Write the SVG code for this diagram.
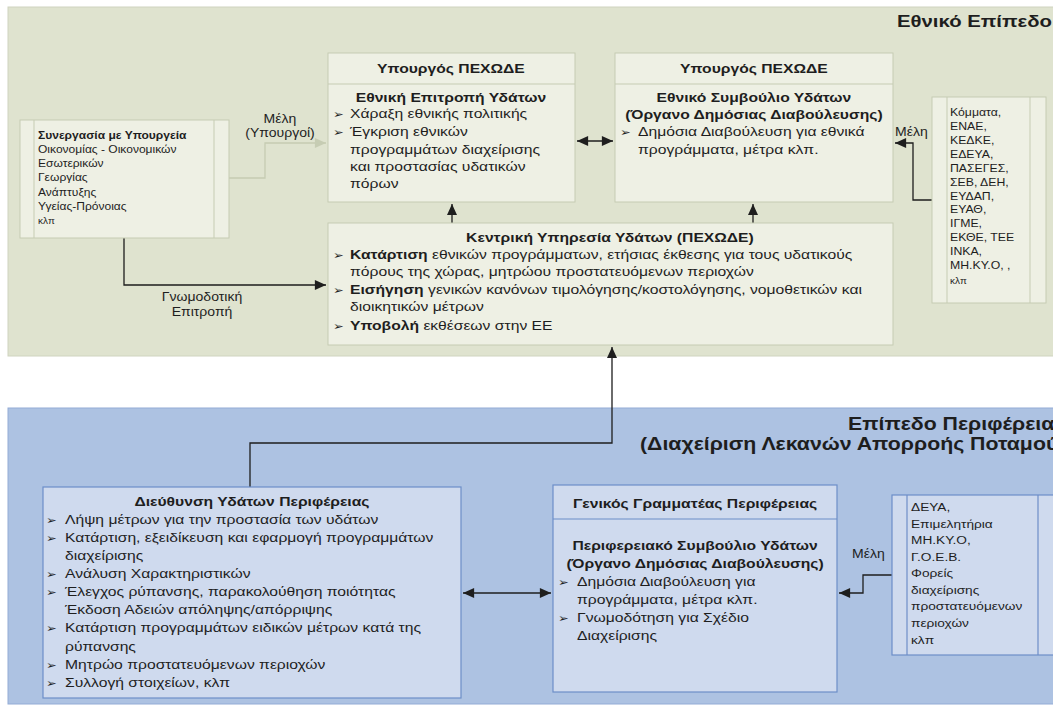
<svg xmlns="http://www.w3.org/2000/svg" width="1053" height="707" viewBox="0 0 1053 707">
<defs>
<style>
.t{font-family:"Liberation Sans",Arial,sans-serif;fill:#1e1e1e}
.b{font-weight:bold}
.m{font-size:13.4px}
.c{text-anchor:middle}
.e{text-anchor:end}
.l{font-size:12px}
.lb{font-size:10.3px}
.sm{font-size:10.5px}
.bl{font-size:11.7px}
.k{font-size:8.5px}
.pt{font-size:17.4px;font-weight:bold}
.pt2{font-size:18.2px;font-weight:bold}
.bul{font-family:"DejaVu Sans",sans-serif;font-size:11px;fill:#1e1e1e}
.gbox{fill:#eef0e4;stroke:#c6ccb3;stroke-width:1}
.bbox{fill:#cfdaee;stroke:#6d8ec8;stroke-width:1.2}
.ln{fill:none;stroke:#1e1e1e;stroke-width:1.3}
.lt{fill:none;stroke:#c6ccb3;stroke-width:1.3}
</style>
<marker id="ah" markerUnits="userSpaceOnUse" markerWidth="12" markerHeight="10" refX="10" refY="4.5" orient="auto-start-reverse" viewBox="0 0 10 9"><path d="M0,0 L10,4.5 L0,9 z" fill="#1e1e1e"/></marker>
<marker id="ahl" markerUnits="userSpaceOnUse" markerWidth="12" markerHeight="10" refX="10" refY="4.5" orient="auto" viewBox="0 0 10 9"><path d="M0,0 L10,4.5 L0,9 z" fill="#c6ccb3"/></marker>
</defs>
<rect width="1053" height="707" fill="#ffffff"/>
<g id="panel-national">
<rect x="8" y="7" width="1060" height="349" fill="#dfe3cf" stroke="#cfd4bf"/>
<text class="t pt e" transform="translate(1052,0) scale(1.17,1)" x="0" y="27">Εθνικό Επίπεδο</text>
</g>
<g id="panel-regional">
<rect x="8" y="408" width="1060" height="296" fill="#adc2e2" stroke="#93acd6"/>
<text class="t pt2" transform="translate(848,0) scale(1.17,1)" x="0" y="430">Επίπεδο Περιφέρειας</text>
<text class="t pt2" transform="translate(640,0) scale(1.17,1)" x="0" y="450">(Διαχείριση Λεκανών Απορροής Ποταμού)</text>
</g>
<g id="connectors">
<polyline class="lt" points="229,178 265,178 265,143 326,143" marker-end="url(#ahl)"/>
<text class="t l c" transform="translate(280,0) scale(1.17,1)" x="0" y="123">Μέλη</text>
<text class="t l c" transform="translate(280,0) scale(1.17,1)" x="0" y="137">(Υπουργοί)</text>
<line class="ln" x1="577" y1="141" x2="613" y2="141" marker-start="url(#ah)" marker-end="url(#ah)"/>
<polyline class="ln" points="932,200 913,200 913,143 895,143" marker-end="url(#ah)"/>
<text class="t l" transform="translate(895,0) scale(1.17,1)" x="0" y="136">Μέλη</text>
<line class="ln" x1="452" y1="223" x2="452" y2="204" marker-end="url(#ah)"/>
<line class="ln" x1="753" y1="223" x2="753" y2="204" marker-end="url(#ah)"/>
<polyline class="ln" points="124,238 124,285 326,285" marker-end="url(#ah)"/>
<text class="t l c" transform="translate(202,0) scale(1.17,1)" x="0" y="301">Γνωμοδοτική</text>
<text class="t l c" transform="translate(202,0) scale(1.17,1)" x="0" y="316">Επιτροπή</text>
<polyline class="ln" points="250,487 250,443 612,443 612,347" marker-end="url(#ah)"/>
<line class="ln" x1="463" y1="593" x2="551" y2="593" marker-start="url(#ah)" marker-end="url(#ah)"/>
<polyline class="ln" points="892,575 863,575 863,593 839,593" marker-end="url(#ah)"/>
<text class="t l" transform="translate(852,0) scale(1.17,1)" x="0" y="558">Μέλη</text>
</g>
<g id="node-ministries">
<rect class="gbox" x="20" y="120" width="209" height="118"/>
<line x1="34" y1="120" x2="34" y2="238" stroke="#c6ccb3"/>
<line x1="214" y1="120" x2="214" y2="238" stroke="#c6ccb3"/>
<g transform="translate(38,0) scale(1.17,1)">
<text class="t b lb" x="0" y="139">Συνεργασία με Υπουργεία</text>
<text class="t lb" x="0" y="153">Οικονομίας - Οικονομικών</text>
<text class="t lb" x="0" y="167">Εσωτερικών</text>
<text class="t lb" x="0" y="181">Γεωργίας</text>
<text class="t lb" x="0" y="196">Ανάπτυξης</text>
<text class="t lb" x="0" y="210">Υγείας-Πρόνοιας</text>
<text class="t k" x="0" y="224">κλπ</text>
</g>
</g>
<g id="node-committee">
<rect class="gbox" x="328" y="53" width="247" height="149"/>
<line x1="328" y1="84" x2="575" y2="84" stroke="#c6ccb3"/>
<g transform="translate(350,0) scale(1.17,1)">
<text class="t b m c" x="86.3" y="73">Υπουργός ΠΕΧΩΔΕ</text>
<text class="t b m c" x="86.3" y="102">Εθνική Επιτροπή Υδάτων</text>
<text class="bul" x="-14.5" y="118">➢</text>
<text class="bul" x="-14.5" y="136">➢</text>
<text class="t m" x="0" y="118">Χάραξη εθνικής πολιτικής</text>
<text class="t m" x="0" y="136">Έγκριση εθνικών</text>
<text class="t m" x="0" y="154">προγραμμάτων διαχείρισης</text>
<text class="t m" x="0" y="171">και προστασίας υδατικών</text>
<text class="t m" x="0" y="188">πόρων</text>
</g>
</g>
<g id="node-council">
<rect class="gbox" x="615" y="53" width="278" height="149"/>
<line x1="615" y1="84" x2="893" y2="84" stroke="#c6ccb3"/>
<g transform="translate(638,0) scale(1.17,1)">
<text class="t b m c" x="99.1" y="73">Υπουργός ΠΕΧΩΔΕ</text>
<text class="t b m c" x="99.1" y="102">Εθνικό Συμβούλιο Υδάτων</text>
<text class="t b m c" x="99.1" y="119">(Όργανο Δημόσιας Διαβούλευσης)</text>
<text class="bul" x="-15.4" y="136">➢</text>
<text class="t m" x="0" y="136">Δημόσια Διαβούλευση για εθνικά</text>
<text class="t m" x="0" y="154">προγράμματα, μέτρα κλπ.</text>
</g>
</g>
<g id="node-members-national">
<rect class="gbox" x="932" y="97" width="114" height="206"/>
<line x1="947" y1="97" x2="947" y2="303" stroke="#c6ccb3"/>
<line x1="1030" y1="97" x2="1030" y2="303" stroke="#c6ccb3"/>
<g transform="translate(950,0) scale(1.17,1)">
<text class="t sm" x="0" y="116">Κόμματα,</text>
<text class="t sm" x="0" y="130">ΕΝΑΕ,</text>
<text class="t sm" x="0" y="144">ΚΕΔΚΕ,</text>
<text class="t sm" x="0" y="158">ΕΔΕΥΑ,</text>
<text class="t sm" x="0" y="172">ΠΑΣΕΓΕΣ,</text>
<text class="t sm" x="0" y="186">ΣΕΒ, ΔΕΗ,</text>
<text class="t sm" x="0" y="200">ΕΥΔΑΠ,</text>
<text class="t sm" x="0" y="213">ΕΥΑΘ,</text>
<text class="t sm" x="0" y="227">ΙΓΜΕ,</text>
<text class="t sm" x="0" y="241">ΕΚΘΕ, ΤΕΕ</text>
<text class="t sm" x="0" y="255">ΙΝΚΑ,</text>
<text class="t sm" x="0" y="269">ΜΗ.ΚΥ.Ο, ,</text>
<text class="t k" x="0" y="284">κλπ</text>
</g>
</g>
<g id="node-central">
<rect class="gbox" x="328" y="223" width="565" height="122"/>
<g transform="translate(350,0) scale(1.17,1)">
<text class="t b m c" x="222.2" y="242">Κεντρική Υπηρεσία Υδάτων (ΠΕΧΩΔΕ)</text>
<text class="bul" x="-14.5" y="259">➢</text>
<text class="bul" x="-14.5" y="294">➢</text>
<text class="bul" x="-14.5" y="330">➢</text>
<text class="t m" x="0" y="259"><tspan class="b">Κατάρτιση</tspan> εθνικών προγράμματων, ετήσιας έκθεσης για τους υδατικούς</text>
<text class="t m" x="0" y="276">πόρους της χώρας, μητρώου προστατευόμενων περιοχών</text>
<text class="t m" x="0" y="294"><tspan class="b">Εισήγηση</tspan> γενικών κανόνων τιμολόγησης/κοστολόγησης, νομοθετικών και</text>
<text class="t m" x="0" y="311">διοικητικών μέτρων</text>
<text class="t m" x="0" y="330"><tspan class="b">Υποβολή</tspan> εκθέσεων στην ΕΕ</text>
</g>
</g>
<g id="node-directorate">
<rect class="bbox" x="43" y="487" width="418" height="211"/>
<g transform="translate(65,0) scale(1.17,1)">
<text class="t b m c" x="159.8" y="506">Διεύθυνση Υδάτων Περιφέρειας</text>
<text class="bul" x="-16.2" y="524">➢</text>
<text class="bul" x="-16.2" y="542">➢</text>
<text class="bul" x="-16.2" y="578">➢</text>
<text class="bul" x="-16.2" y="596">➢</text>
<text class="bul" x="-16.2" y="632">➢</text>
<text class="bul" x="-16.2" y="669">➢</text>
<text class="bul" x="-16.2" y="687">➢</text>
<text class="t m" x="0" y="524">Λήψη μέτρων για την προστασία των υδάτων</text>
<text class="t m" x="0" y="542">Κατάρτιση, εξειδίκευση και εφαρμογή προγραμμάτων</text>
<text class="t m" x="0" y="560">διαχείρισης</text>
<text class="t m" x="0" y="578">Ανάλυση Χαρακτηριστικών</text>
<text class="t m" x="0" y="596">Έλεγχος ρύπανσης, παρακολούθηση ποιότητας</text>
<text class="t m" x="0" y="614">Έκδοση Αδειών απόληψης/απόρριψης</text>
<text class="t m" x="0" y="632">Κατάρτιση προγραμμάτων ειδικών μέτρων κατά της</text>
<text class="t m" x="0" y="651">ρύπανσης</text>
<text class="t m" x="0" y="669">Μητρώο προστατευόμενων περιοχών</text>
<text class="t m" x="0" y="687">Συλλογή στοιχείων, κλπ</text>
</g>
</g>
<g id="node-regional-council">
<rect class="bbox" x="553" y="485" width="284" height="207"/>
<line x1="553" y1="519" x2="837" y2="519" stroke="#6d8ec8" stroke-width="1.2"/>
<g transform="translate(577,0) scale(1.17,1)">
<text class="t b m c" x="100.9" y="508">Γενικός Γραμματέας Περιφέρειας</text>
<text class="t b m c" x="100.9" y="550">Περιφερειακό Συμβούλιο Υδάτων</text>
<text class="t b m c" x="100.9" y="568">(Όργανο Δημόσιας Διαβούλευσης)</text>
<text class="bul" x="-16.2" y="586">➢</text>
<text class="bul" x="-16.2" y="622">➢</text>
<text class="t m" x="0" y="586">Δημόσια Διαβούλευση για</text>
<text class="t m" x="0" y="604">προγράμματα, μέτρα κλπ.</text>
<text class="t m" x="0" y="622">Γνωμοδότηση για Σχέδιο</text>
<text class="t m" x="0" y="640">Διαχείρισης</text>
</g>
</g>
<g id="node-members-regional">
<rect class="bbox" x="892" y="495" width="170" height="160"/>
<line x1="907" y1="495" x2="907" y2="655" stroke="#6d8ec8" stroke-width="1.2"/>
<line x1="1038" y1="495" x2="1038" y2="655" stroke="#6d8ec8" stroke-width="1.2"/>
<g transform="translate(911,0) scale(1.17,1)">
<text class="t bl" x="0" y="511">ΔΕΥΑ,</text>
<text class="t bl" x="0" y="528">Επιμελητήρια</text>
<text class="t bl" x="0" y="544">ΜΗ.ΚΥ.Ο,</text>
<text class="t bl" x="0" y="561">Γ.Ο.Ε.Β.</text>
<text class="t bl" x="0" y="577">Φορείς</text>
<text class="t bl" x="0" y="594">διαχείρισης</text>
<text class="t bl" x="0" y="610">προστατευόμενων</text>
<text class="t bl" x="0" y="627">περιοχών</text>
<text class="t bl" x="0" y="644">κλπ</text>
</g>
</g>
</svg>
